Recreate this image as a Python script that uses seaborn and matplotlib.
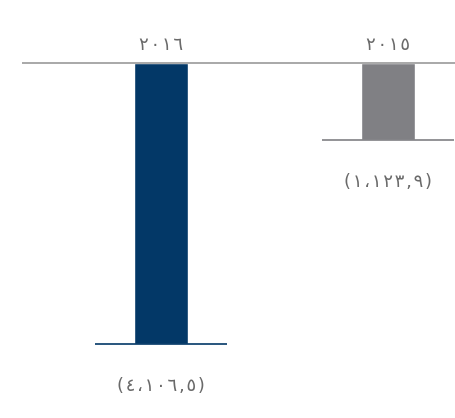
import pandas as pd
import matplotlib
matplotlib.use('Agg')
import matplotlib.pyplot as plt
import seaborn as sns

# data (values shown as negatives, labels in Arabic-Indic digits)
years = ['٢٠١٦', '٢٠١٥']
values = [-4106.5, -1123.9]
value_labels = ['(٤،١٠٦,٥)', '(١،١٢٣,٩)']
colors = ['#033867', '#808084']

df = pd.DataFrame({'year': years, 'value': values})

sns.set_style('white')
plt.rcParams['font.family'] = ['DejaVu Sans']


def spaced(s):
    # the reference text is loosely tracked
    return '\u200a'.join(s)


fig = plt.figure(figsize=(4.56, 4.18), dpi=100)
ax = fig.add_axes([22 / 456, 0, 1 - 22 / 456, 1])

sns.barplot(data=df, x='year', y='value', hue='year', palette=colors,
            order=years, width=0.238, legend=False, ax=ax, saturation=1)

# zero line across the top
ax.axhline(0, color='#9a9a9a', lw=1.2)

# short base lines under each bar plus labels
for i, (v, c, lab, yr) in enumerate(zip(values, colors, value_labels, years)):
    ax.hlines(v, i - 0.291, i + 0.291, color=c, lw=1.2)
    ax.annotate(spaced(lab), (i, v), xytext=(0, -30), textcoords='offset points',
                ha='center', va='center', fontsize=13, color='#6a6a6a')
    ax.annotate(spaced(yr), (i, 0), xytext=(0, 13), textcoords='offset points',
                ha='center', va='center', fontsize=13, color='#6a6a6a')

ax.set_xlim(-0.614, 1.302)
ax.set_ylim(-5188, 921)
ax.axis('off')

fig.savefig('out.png', dpi=100)
